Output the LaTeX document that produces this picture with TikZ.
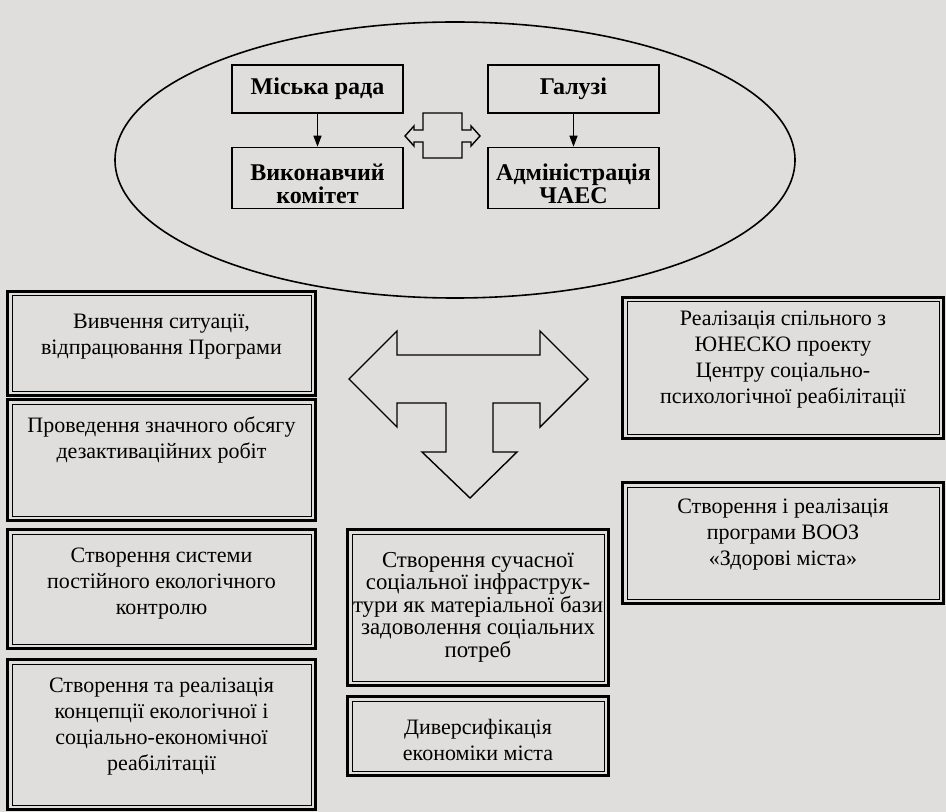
\documentclass[tikz,border=0pt]{standalone}
\usepackage{fontspec}
\setmainfont{Liberation Serif}
\usetikzlibrary{arrows.meta,shapes.geometric,fit}
\definecolor{paper}{RGB}{223,222,221}
\begin{document}
\begin{tikzpicture}[x=0.5pt,y=-0.5pt,
  ibox/.style={draw, line width=0.5pt, inner sep=0pt},
  obox/.style={line width=1.3pt},
  txt/.style={align=center, font=\fontsize{11}{13}\selectfont, inner sep=0pt},
  ebox/.style={draw, line width=0.8pt, inner sep=0pt, minimum width=85.5pt},
  btxt/.style={align=center, inner sep=0pt, font=\bfseries\fontsize{12}{11.5}\selectfont},
  arr/.style={line width=0.7pt, -{Triangle[length=5.5pt,width=4pt]}},
  hollow/.style={draw, line width=0.7pt, line join=miter}
]
\useasboundingbox[fill=paper] (0,0) rectangle (946,812);

% ellipse with the four bodies
\node[draw, ellipse, line width=0.8pt, minimum width=340pt, minimum height=138pt, inner sep=0pt] (ell) at (455,160) {};
\node[ebox, minimum height=24pt] (mr) at (317.5,89) {};
\node[ebox, minimum height=24pt] (gal) at (573.5,89) {};
\node[ebox, minimum height=30.5pt] (vk) at (317.5,178) {};
\node[ebox, minimum height=30.5pt] (adm) at (573.5,178) {};
\node[btxt] (mrt) at (317.5,89) {Міська рада};
\node[btxt] (galt) at (573.5,89) {Галузі};
\node[btxt] (vkt) at (317.5,184) {Виконавчий\\комітет};
\node[btxt] (admt) at (573.5,184) {Адміністрація\\ЧАЕС};
\draw[arr] (mr.south) -- (vk.north);
\draw[arr] (gal.south) -- (adm.north);

% small hollow double arrow
\draw[hollow] (405,136) -- (414,126) -- (414,130) -- (423,130) -- (423,113) -- (462,113)
  -- (462,130) -- (471,130) -- (471,126) -- (480,136) -- (471,146) -- (471,142)
  -- (462,142) -- (462,158) -- (423,158) -- (423,142) -- (414,142) -- (414,146) -- cycle;

% big three-way hollow arrow
\draw[hollow] (397,331) -- (397,355) -- (540,355) -- (540,331) -- (588,379) -- (540,427)
  -- (540,403) -- (493,403) -- (493,452) -- (517,452) -- (470,498) -- (422,452)
  -- (446,452) -- (446,403) -- (397,403) -- (397,427) -- (349,379) -- cycle;

% double-bordered boxes
\node[ibox, fit={(12,296)(311,391)}] (b1) {};
\node[ibox, fit={(12,404)(311,516)}] (b2) {};
\node[ibox, fit={(12,534)(311,644)}] (b3) {};
\node[ibox, fit={(12,664)(311,805)}] (b4) {};
\node[ibox, fit={(627,302)(939,434)}] (r1) {};
\node[ibox, fit={(627,487)(939,599)}] (r2) {};
\node[ibox, fit={(352,534)(604,681)}] (c1) {};
\node[ibox, fit={(352,701)(604,771)}] (c2) {};
\foreach \n in {b1,b2,b3,b4,r1,r2,c1,c2}
  \draw[obox] ([shift={(-4,-4)}]\n.north west) rectangle ([shift={(4,4)}]\n.south east);

\node[txt] (t1) at (161.5,336.5) {Вивчення ситуації,\\відпрацювання Програми};
\node[txt] (t2) at (161.5,440) {Проведення значного обсягу\\дезактиваційних робіт};
\node[txt] (t3) at (161.5,584) {Створення системи\\постійного екологічного\\контролю};
\node[txt] (t4) at (161.5,727) {Створення та реалізація\\концепції екологічної і\\соціально-економічної\\реабілітації};
\node[txt] (tr1) at (783,360) {Реалізація спільного з\\ЮНЕСКО проекту\\Центру соціально-\\психологічної реабілітації};
\node[txt] (tr2) at (783,535) {Створення і реалізація\\програми ВООЗ\\«Здорові міста»};
\node[txt, font=\fontsize{11.4}{11.25}\selectfont] (tc1) at (478,607) {Створення сучасної\\соціальної інфраструк-\\тури як матеріальної бази\\задоволення соціальних\\потреб};
\node[txt] (tc2) at (478,740) {Диверсифікація\\економіки міста};
\end{tikzpicture}
\end{document}
